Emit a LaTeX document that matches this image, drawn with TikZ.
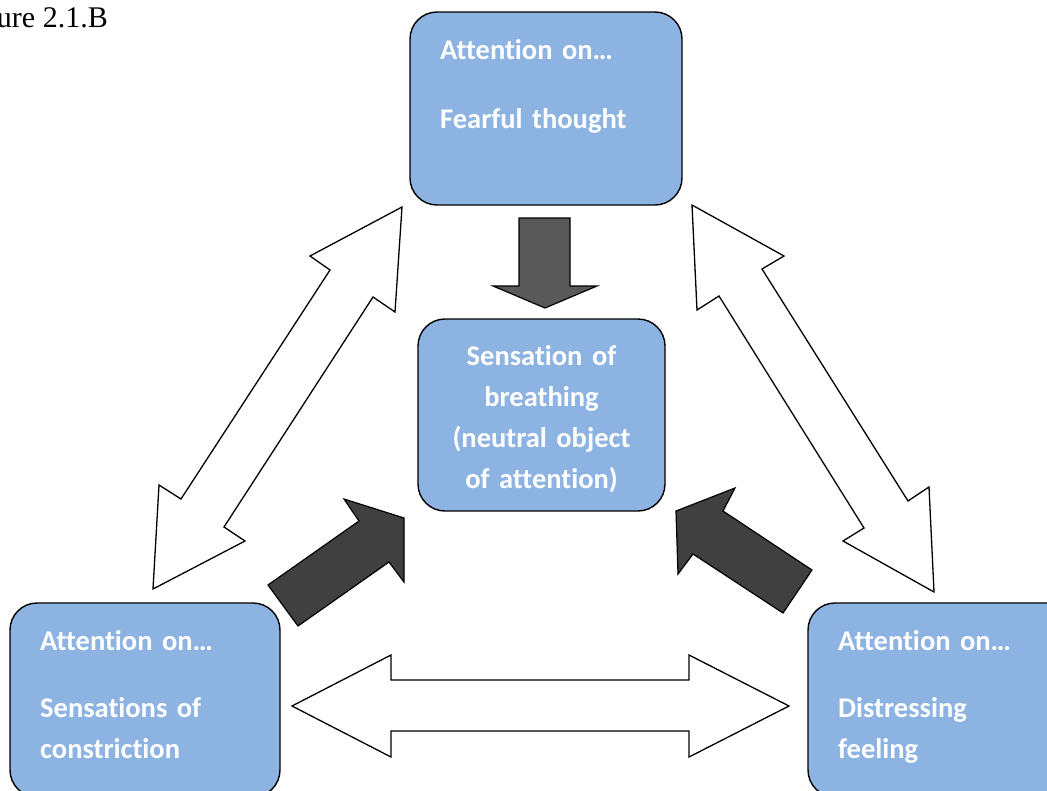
\documentclass[tikz,border=0pt]{standalone}
\usepackage{fontspec}
\usepackage{tikz}
\usepackage{xcolor}
\setmainfont{Carlito}[Ligatures={NoCommon}]
\newfontfamily\figfont{Liberation Serif}
\definecolor{boxblue}{RGB}{141,179,226}
\definecolor{darkgrey}{RGB}{64,64,64}
\definecolor{midgrey}{RGB}{89,89,89}

\begin{document}
\begin{tikzpicture}[x=1pt, y=-1pt,
	box/.style={draw=black, line width=1.4pt, fill=boxblue, rounded corners=27pt, inner sep=0pt},
	boxtext/.style={text=white, font=\bfseries\fontsize{28.5}{41}\selectfont, inner sep=0pt},
	hollow/.style={draw=black, line width=1.3pt, fill=white, line join=miter},
	heavy/.style={draw=black, line width=1.2pt, line join=miter}]
	\useasboundingbox (0,0) rectangle (1047,790);
	\clip (0,0) rectangle (1047,790);
	\node[anchor=base east, inner sep=0pt, font=\figfont\fontsize{30}{36}\selectfont] (caption) at (108,27) {ure 2.1.B};
	\node[box, minimum width=272pt, minimum height=193pt] (thought) at (546,108.5) {};
	\node[box, minimum width=247pt, minimum height=192pt] (breath) at (541.5,415) {};
	\node[box, minimum width=270pt, minimum height=194pt] (constrict) at (145,700) {};
	\node[box, minimum width=272pt, minimum height=194pt] (feeling) at (944,700) {};
	\node[boxtext, anchor=base west, text width=250pt, align=left] (thoughttext) at (440,59) {Attention on…\\[28pt]Fearful thought};
	\node[boxtext, anchor=base, text width=240pt, align=center] (breathtext) at (541.5,365) {Sensation of\\breathing\\(neutral object\\of attention)};
	\node[boxtext, anchor=base west, text width=240pt, align=left] (constricttext) at (40,650) {Attention on…\\[26pt]Sensations of\\constriction};
	\node[boxtext, anchor=base west, text width=240pt, align=left] (feelingtext) at (838,650) {Attention on…\\[26pt]Distressing\\feeling};
	\draw[hollow] (402,207) -- (395,312) -- (373,297) -- (224,527) -- (245,541) -- (153,589) -- (159,485) -- (181,499) -- (330,270) -- (310,256) -- cycle;
	\draw[hollow] (692,205) -- (784,256) -- (762,269) -- (908,501) -- (929,487) -- (934,592) -- (843,541) -- (864,528) -- (719,296) -- (697,310) -- cycle;
	\draw[hollow] (292,706) -- (391,655) -- (391,680) -- (689,680) -- (689,655) -- (789,706) -- (689,757) -- (689,731) -- (391,731) -- (391,757) -- cycle;
	\draw[heavy, fill=midgrey] (519,218) -- (570,218) -- (570,286) -- (597,286) -- (545,308) -- (493,286) -- (519,286) -- cycle;
	\draw[heavy, fill=darkgrey] (268,585) -- (359,521) -- (344,499) -- (404,518) -- (404,582) -- (389,562) -- (298,626) -- cycle;
	\draw[heavy, fill=darkgrey] (676,511) -- (735,488) -- (723,511) -- (812,570) -- (783,613) -- (693,554) -- (678,574) -- cycle;
\end{tikzpicture}
\end{document}
